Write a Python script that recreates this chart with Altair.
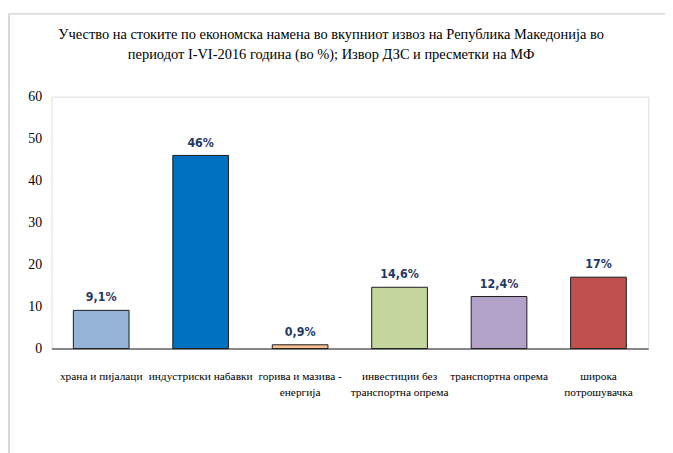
import altair as alt
import pandas as pd

categories = ["храна и пијалаци", "индустриски  набавки", "горива и мазива -|енергија",
              "инвестиции без|транспортна опрема", "транспортна опрема", "широка|потрошувачка"]
values = [9.1, 46, 0.9, 14.6, 12.4, 17]
labels = ["9,1%", "46%", "0,9%", "14,6%", "12,4%", "17%"]
colors = ["#95B3D7", "#0070C0", "#FAC090", "#C3D69B", "#B3A2C7", "#C0504D"]
y_ticks = [0, 10, 20, 30, 40, 50, 60]
title_lines = ["Учество на стоките по економска намена во вкупниот  извоз на Република Македонија во",
               "периодот I-VI-2016 година (во %); Извор ДЗС и пресметки на МФ"]

df = pd.DataFrame({"cat": categories, "val": values, "lab": labels, "col": colors})

W, H = 604, 255
FONT = "Liberation Serif"

x = alt.X("cat:N", sort=categories, title=None,
          scale=alt.Scale(paddingInner=0.44, paddingOuter=0.22),
          axis=alt.Axis(labelExpr="split(datum.label, '|')", labelAngle=0,
                        labelFont=FONT, labelFontSize=11.5, labelColor="#000000",
                        labelPadding=22, ticks=False, domainColor="#868686",
                        domainWidth=2, labelLineHeight=17))
y = alt.Y("val:Q", title=None,
          scale=alt.Scale(domain=[0, 60], nice=False),
          axis=alt.Axis(values=y_ticks, grid=False, ticks=False, domain=False,
                        labelFont=FONT, labelFontSize=14, labelColor="#000000",
                        labelPadding=10))

bars = alt.Chart(df).mark_bar(stroke="#1a1a1a", strokeWidth=1).encode(
    x=x, y=y, fill=alt.Fill("col:N", scale=None)
)

text = alt.Chart(df).mark_text(
    font="DejaVu Sans Condensed", fontWeight="bold", fontSize=12.5,
    color="#1F3864", dy=-13
).encode(x=alt.X("cat:N", sort=categories), y="val:Q", text="lab:N")

frame = alt.Chart(df).mark_rect(fill=None, stroke="#D9D9D9", strokeWidth=1).encode(
    x=alt.value(-43), x2=alt.value(700), y=alt.value(-84), y2=alt.value(420)
)

t1 = alt.Chart(pd.DataFrame({"t": [title_lines[0]]})).mark_text(
    font=FONT, fontSize=14.6, color="#000000", baseline="middle", align="center"
).encode(text="t:N", x=alt.value(W / 2 - 19), y=alt.value(-62))
t2 = alt.Chart(pd.DataFrame({"t": [title_lines[1]]})).mark_text(
    font=FONT, fontSize=14.6, color="#000000", baseline="middle", align="center"
).encode(text="t:N", x=alt.value(W / 2 - 19), y=alt.value(-42))

chart = alt.layer(frame, bars, text, t1, t2).properties(
    width=W, height=H,
    autosize=alt.AutoSizeParams(type="none"),
    padding={"left": 44, "top": 87, "right": 17, "bottom": 103},
).configure_view(stroke="#D9D9D9", strokeWidth=1).configure(background="#FFFFFF")

chart.save("out.html", embed_options={"renderer": "svg", "actions": False})
